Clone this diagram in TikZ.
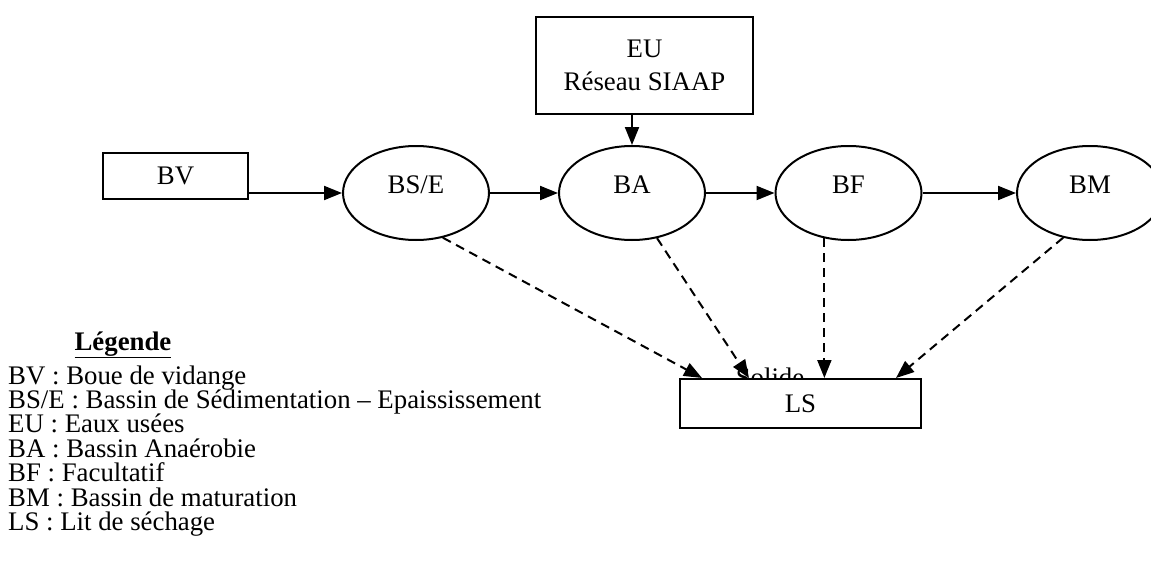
\documentclass[tikz,border=0pt]{standalone}
\usepackage{fontspec}
\setmainfont{Liberation Serif}
\usetikzlibrary{shapes.geometric,arrows.meta,calc}
\begin{document}
\begin{tikzpicture}[x=1pt,y=-1pt,
  every node/.style={font=\fontsize{26.8}{30}\selectfont},
  box/.style={draw, line width=2pt, rectangle, inner sep=0pt, fill=white},
  pond/.style={draw, ellipse, line width=2pt, minimum width=146pt, minimum height=94pt, inner sep=0pt, text height=17pt, text depth=16pt},
  flow/.style={line width=2pt, -{Triangle[length=18pt,width=14pt]}},
  sludge/.style={flow, dash pattern=on 9pt off 6pt},
  legendtext/.style={anchor=base west, inner sep=0pt}]
\useasboundingbox (0,0) rectangle (1151,570);

% main nodes
\node[box, minimum width=217pt, minimum height=97pt, align=center, font=\fontsize{26.8}{33}\selectfont] (eu) at (644.5,65.5) {EU\\Réseau SIAAP};
\node[box, minimum width=145pt, minimum height=46pt] (bv) at (175.5,176) {BV};
\node[pond] (bse) at (416,193) {BS/E};
\node[pond] (ba) at (632,193) {BA};
\node[pond] (bf) at (848.5,193) {BF};
\node[pond] (bm) at (1090,193) {BM};
\node[anchor=base, inner sep=0pt] (sol) at (770,386) {Solide};
\node[box, minimum width=241pt, minimum height=49pt] (ls) at (800.5,403.5) {LS};

% flows
\draw[flow] (bv.east |- bse.west) -- (bse.west);
\draw[flow] (bse.east) -- (ba.west);
\draw[flow] (ba.east) -- (bf.west);
\draw[flow] (bf.east) -- (bm.west);
\draw[flow] (eu.south -| ba.north) -- (ba.north);

% sludge
\draw[sludge] (bse.-59) -- ($(ls.north west)+(23,0)$);
\draw[sludge] (ba.-61) -- ($(ls.north west)+(70,0)$);
\draw[sludge] (bf.-118) -- (bf.-118 |- ls.north);
\draw[sludge] (bm.-121) -- ($(ls.north west)+(217,0)$);

% legend
\node[anchor=base, inner sep=0pt, font=\bfseries\fontsize{26.8}{30}\selectfont] (leg) at (123,350) {\underline{Légende}};
\foreach \t [count=\i] in {BV : Boue de vidange, {BS/E : Bassin de Sédimentation – Epaississement}, EU : Eaux usées, BA : Bassin Anaérobie, BF : Facultatif, BM : Bassin de maturation, LS : Lit de séchage}
  \node[legendtext] (l\i) at (8, {384+24.45*(\i-1)}) {\t};
\end{tikzpicture}
\end{document}
